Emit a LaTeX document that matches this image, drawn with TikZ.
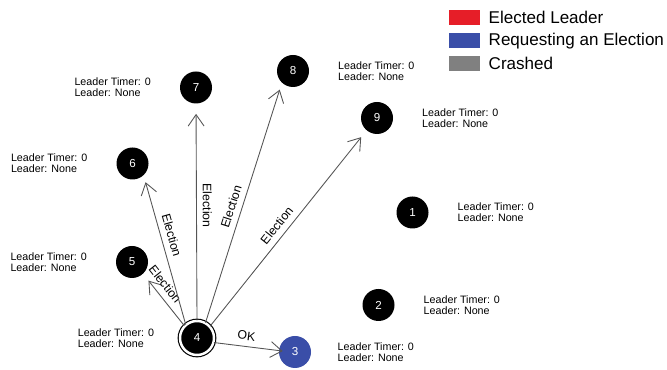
\documentclass[tikz,border=0pt]{standalone}
\usepackage{fontspec}
\setmainfont{Liberation Sans}
\usetikzlibrary{positioning, arrows.meta}
\definecolor{leaderred}{RGB}{230,30,40}
\definecolor{electblue}{RGB}{58,78,168}
\definecolor{crashgray}{RGB}{128,128,128}
\definecolor{msggray}{RGB}{85,85,85}
\tikzset{
  proc/.style={
    circle, fill=black, minimum size=0.64cm, inner sep=0pt,
    text=white, font=\fontsize{6.6}{7}\selectfont
  },
  current/.style={proc, draw=black, double=white, double distance=1.4pt,
    line width=0.65pt, minimum size=0.68cm},
  requester/.style={proc, fill=electblue},
  status/.style={font=\fontsize{6.1}{6.1}\selectfont, align=left, inner sep=0pt},
  msg/.style={draw=msggray, line width=0.5pt, -{Straight Barb[length=6.5pt, width=9pt]}},
  msg label/.style={font=\fontsize{7}{8}\selectfont, text=black},
  swatch/.style={rectangle, minimum width=0.62cm, minimum height=0.3cm, inner sep=0pt},
  key/.style={font=\fontsize{9.7}{11}\selectfont, inner sep=0pt},
}

\begin{document}
\begin{tikzpicture}[node distance=0.57cm]
  \useasboundingbox (0,0) rectangle (13.34,7.4);

  \node[proc] (P1) at (8.25,3.15) {1};
  \node[proc] (P2) at (7.57,1.30) {2};
  \node[requester] (P3) at (5.90,0.36) {3};
  \node[current] (P4) at (3.94,0.64) {4};
  \node[proc] (P5) at (2.64,2.16) {5};
  \node[proc] (P6) at (2.65,4.13) {6};
  \node[proc] (P7) at (3.92,5.65) {7};
  \node[proc] (P8) at (5.86,5.98) {8};
  \node[proc] (P9) at (7.54,5.04) {9};

  \node[status, right=of P1] (S1) {Leader Timer: 0\\Leader: None};
  \node[status, right=of P2] (S2) {Leader Timer: 0\\Leader: None};
  \node[status, right=0.52cm of P3] (S3) {Leader Timer: 0\\Leader: None};
  \node[status, left=0.5cm of P4] (S4) {Leader Timer: 0\\Leader: None};
  \node[status, left=of P5] (S5) {Leader Timer: 0\\Leader: None};
  \node[status, left=of P6] (S6) {Leader Timer: 0\\Leader: None};
  \node[status, left=of P7] (S7) {Leader Timer: 0\\Leader: None};
  \node[status, right=of P8] (S8) {Leader Timer: 0\\Leader: None};
  \node[status, right=of P9] (S9) {Leader Timer: 0\\Leader: None};

  \draw[msg, shorten >=0.17cm] (P4.136) -- node[msg label, pos=0.67, sloped, above]{Election} (P5.-47);
  \draw[msg, shorten >=0.14cm] (P4.130) -- node[msg label, pos=0.58, sloped, above]{Election} (P6.-47);
  \draw[msg, shorten >=0.2cm] (P4.90) -- node[msg label, pos=0.53, rotate=-90, above]{Election} (P7.-90);
  \draw[msg, shorten >=0.14cm] (P4.61) -- node[msg label, pos=0.47, sloped, above]{Election} (P8.-133);
  \draw[msg, shorten >=0.17cm] (P4.42) -- node[msg label, pos=0.48, sloped, above]{Election} (P9.-130);
  \draw[msg, shorten >=-0.08cm] (P4.-15) -- node[msg label, pos=0.48, sloped, above]{OK} (P3.175);

  \node[swatch, fill=leaderred] (K1) at (9.29,7.05) {};
  \node[swatch, fill=electblue, below=0.15cm of K1] (K2) {};
  \node[swatch, fill=crashgray, below=0.15cm of K2] (K3) {};
  \node[key, right=0.16cm of K1] {Elected Leader};
  \node[key, right=0.16cm of K2] {Requesting an Election};
  \node[key, right=0.16cm of K3] {Crashed};
\end{tikzpicture}
\end{document}
